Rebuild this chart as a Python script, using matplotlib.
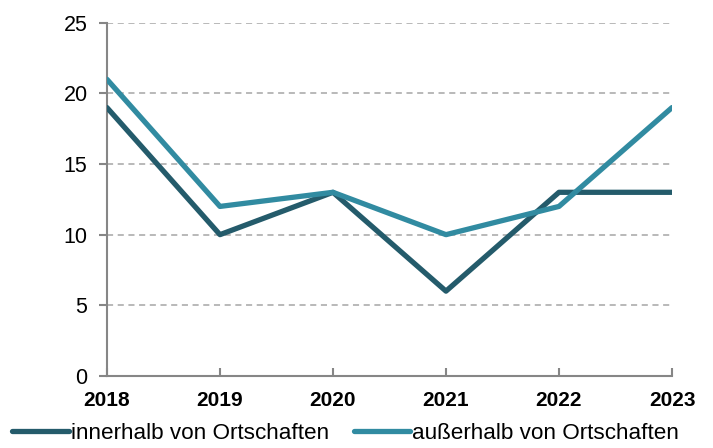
import matplotlib.pyplot as plt

plt.rcParams['font.family'] = ['Liberation Sans', 'DejaVu Sans']

years = [2018, 2019, 2020, 2021, 2022, 2023]
innerhalb = [19, 10, 13, 6, 13, 13]
ausserhalb = [21, 12, 13, 10, 12, 19]
y_ticks = [0, 5, 10, 15, 20, 25]

fig = plt.figure(figsize=(7.13, 4.48), dpi=100)
ax = fig.add_axes([0.150, 0.161, 0.7925, 0.788])

ax.plot(years, innerhalb, color='#245b6b', lw=3.8, solid_capstyle='round',
        label='innerhalb von Ortschaften', zorder=3)
ax.plot(years, ausserhalb, color='#318ba1', lw=3.8, solid_capstyle='round',
        label='außerhalb von Ortschaften', zorder=3)

ax.set_xlim(2018, 2023)
ax.set_ylim(0, 25)
ax.set_xticks(years)
ax.set_yticks(y_ticks)
ax.set_xticklabels([str(y) for y in years], fontweight='bold', fontsize=15)
ax.set_yticklabels([str(v) for v in y_ticks], fontsize=15.5)

for v in y_ticks[1:]:
    ax.axhline(v, color='#a6a6a6', lw=1.1, ls=(0, (4, 3)), zorder=1)

for s in ['top', 'right']:
    ax.spines[s].set_visible(False)
for s in ['left', 'bottom']:
    ax.spines[s].set_color('#868686')
    ax.spines[s].set_linewidth(1.5)
ax.tick_params(axis='both', colors='#868686', length=6, width=1.5,
               labelcolor='black')
ax.tick_params(axis='x', direction='in', pad=11)
ax.tick_params(axis='y', direction='out', pad=8)

fig.legend(loc='lower center', bbox_to_anchor=(0.485, -0.036), ncol=2,
           frameon=False, fontsize=16.2, handlelength=2.5, handletextpad=0.1,
           columnspacing=1.1)

fig.savefig('out.png', dpi=100)
